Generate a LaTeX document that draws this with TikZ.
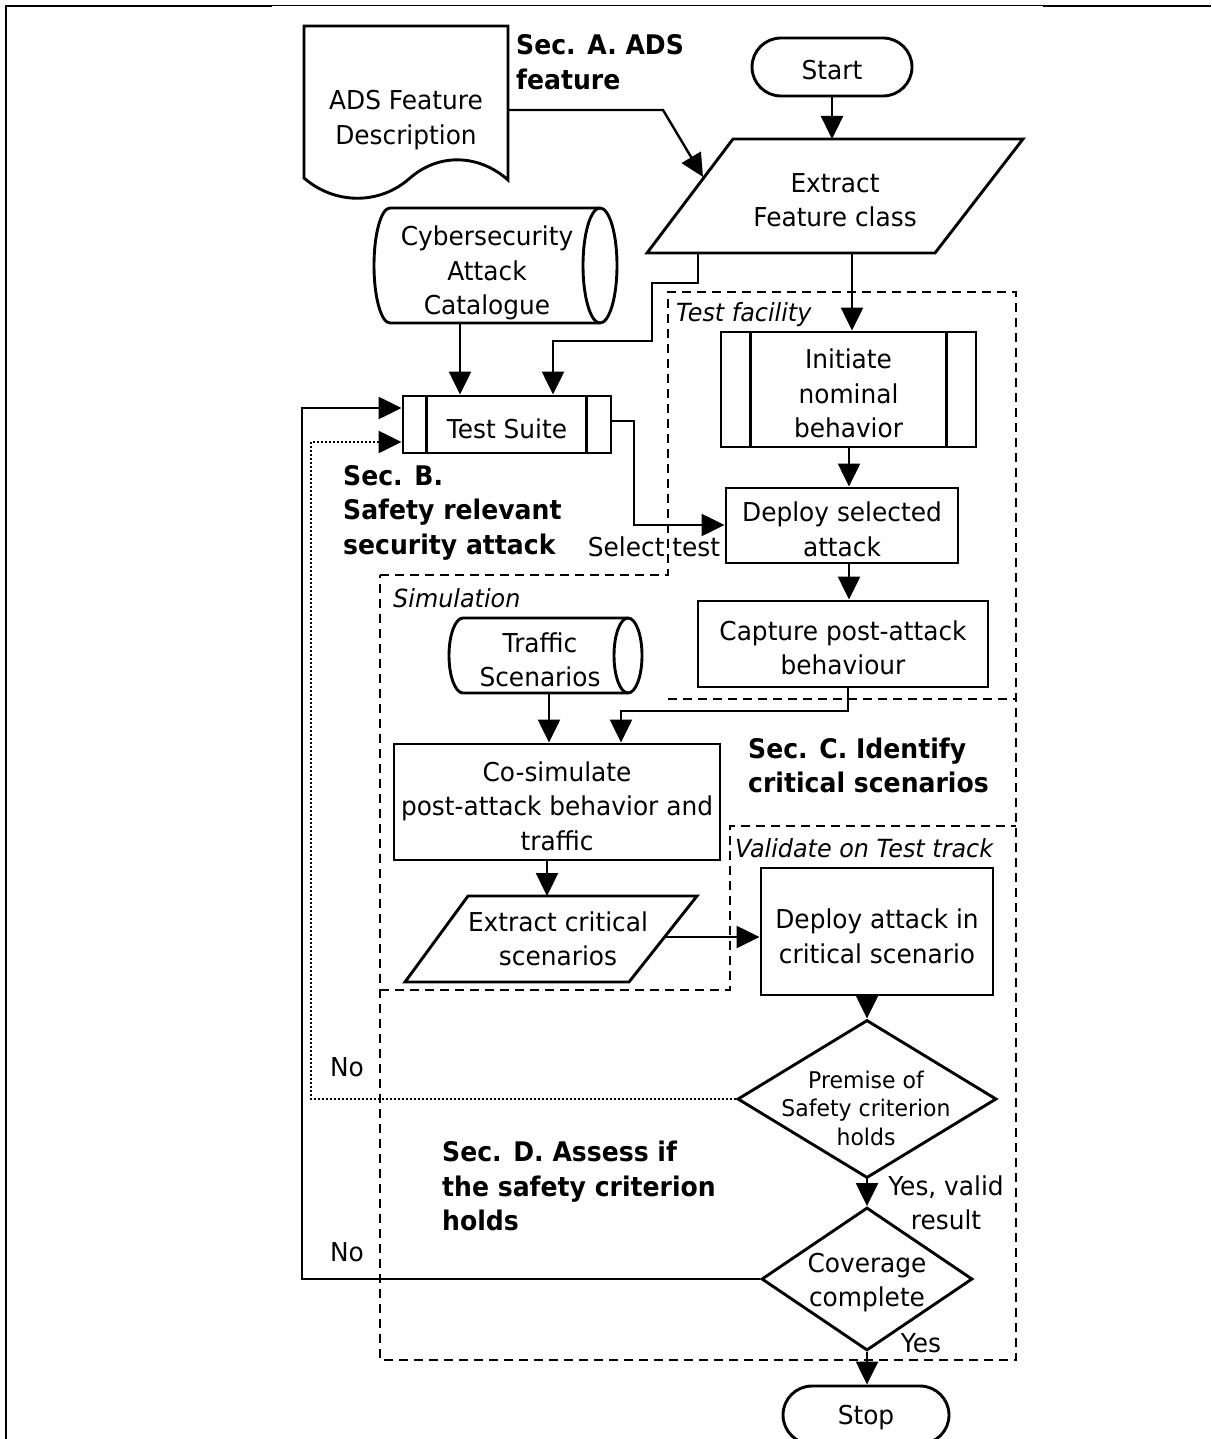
\documentclass[tikz,border=0pt]{standalone}
\usepackage{fontspec}
\setmainfont{DejaVu Sans}[FakeStretch=0.955, BoldFeatures={FakeStretch=0.93}]
\usetikzlibrary{arrows.meta,shapes.geometric}

\newcommand\fcBody{\fontsize{26}{34.5}\selectfont}
\newcommand\fcSect{\fontsize{27}{34.5}\selectfont\bfseries}
\newcommand\fcArea{\fontsize{25}{30}\selectfont\itshape}
\newcommand\fcSmall{\fontsize{23}{28.5}\selectfont}
\newcommand\fcCov{\fontsize{26}{34}\selectfont}

\tikzset{
  outline/.style={draw, line width=2.9pt, line join=miter},
  box/.style={outline, inner sep=0pt},
  txt/.style={inner sep=0pt, align=center, font=\fcBody},
  sect/.style={inner sep=0pt, align=left, anchor=west, font=\fcSect},
  area/.style={inner sep=0pt, anchor=west, font=\fcArea},
  arr/.style={line width=2.4pt, -{Triangle[length=23pt,width=22pt]}},
  region/.style={line width=2.6pt, dash pattern=on 9pt off 6pt},
  retry/.style={line width=2.4pt, dash pattern=on 2pt off 2pt},
}

\begin{document}
\begin{tikzpicture}[x=1pt,y=-1pt]
\useasboundingbox (0,0) rectangle (1211,1439);

% page frame
\draw[line width=2.4pt] (5,6) -- (272,6);
\draw[line width=1pt] (272,6) -- (1043,6);
\draw[line width=2.4pt] (1043,6) -- (1211,6);
\draw[line width=2.6pt] (6,5) -- (6,1439);

% dashed regions: test facility, simulation, test track, assessment
\draw[region] (380,575) -- (668,575) -- (668,292) -- (1016,292) -- (1016,1360) -- (380,1360) -- cycle;
\draw[region] (668,699) -- (1016,699);
\draw[region] (380,990) -- (730,990) -- (730,826) -- (1016,826);

% feature description document
\draw[outline] (304,26) -- (508,26) -- (508,180)
  .. controls (480,155) and (440,152) .. (410,178)
  .. controls (380,205) and (335,205) .. (304,178) -- cycle;
\node[txt] (ads) at (406,120) {ADS Feature\\Description};
\coordinate (ads-e) at (508,110);

% start terminal
\node[box, rounded corners=29pt, minimum width=160pt, minimum height=58pt] (start) at (832,67) {};
\node[txt] (start-t) at ([yshift=-3pt]start.center) {Start};

% extract feature class (input/output)
\draw[outline] (733,139) -- (1023,139) -- (935,253) -- (647,253) -- cycle;
\node[txt] (extract) at (835,200) {Extract\\Feature class};
\coordinate (ext-in) at (832,139);
\coordinate (ext-slant) at (703,177);
\coordinate (ext-out1) at (852,253);
\coordinate (ext-out2) at (698,253);

% attack catalogue (stored data)
\draw[outline] (390,208) -- (600,208)
  arc[start angle=90, end angle=-90, x radius=17pt, y radius=57.5pt] -- (390,323)
  arc[start angle=270, end angle=90, x radius=16pt, y radius=57.5pt] -- cycle;
\draw[outline] (600,208) arc[start angle=90, end angle=270, x radius=17pt, y radius=57.5pt];
\node[txt] (cat) at (487,273) {Cybersecurity\\Attack\\Catalogue};
\coordinate (cat-s) at (460,323);

% test suite (predefined process)
\node[box, minimum width=208pt, minimum height=57pt] (suite) at (507,424.5) {};
\draw[outline] ([xshift=25pt]suite.north west) -- ([xshift=25pt]suite.south west);
\draw[outline] ([xshift=-26pt]suite.north east) -- ([xshift=-26pt]suite.south east);
\node[txt] (suite-t) at ([yshift=-4pt]suite.center) {Test Suite};

% test facility steps
\node[box, minimum width=255pt, minimum height=115pt] (init) at (848.5,389.5) {};
\draw[outline] ([xshift=31pt]init.north west) -- ([xshift=31pt]init.south west);
\draw[outline] ([xshift=-31pt]init.north east) -- ([xshift=-31pt]init.south east);
\node[txt] (init-t) at ([yshift=-4pt]init.center) {Initiate\\nominal\\behavior};
\node[box, minimum width=232pt, minimum height=75pt] (deploy) at (842,525.5) {};
\node[txt] (deploy-t) at ([yshift=-4pt]deploy.center) {Deploy selected\\attack};
\node[box, minimum width=290pt, minimum height=86pt] (capture) at (843,644) {};
\node[txt] (capture-t) at ([yshift=-4pt]capture.center) {Capture post-attack\\behaviour};

% traffic scenarios (stored data)
\draw[outline] (463,618) -- (628,618)
  arc[start angle=90, end angle=-90, x radius=14pt, y radius=37.5pt] -- (463,693)
  arc[start angle=270, end angle=90, x radius=14pt, y radius=37.5pt] -- cycle;
\draw[outline] (628,618) arc[start angle=90, end angle=270, x radius=14pt, y radius=37.5pt];
\node[txt] (traffic) at (540,660) {Traffic\\Scenarios};
\coordinate (traffic-s) at (549,693);

% simulation steps
\node[box, minimum width=326pt, minimum height=116pt] (cosim) at (557,802) {};
\node[txt] (cosim-t) at ([yshift=-4pt]cosim.center) {Co-simulate\\post-attack behavior and\\traffic};
\draw[outline] (468,896) -- (697,896) -- (629,982) -- (405,982) -- cycle;
\node[txt] (extcrit) at (558,939) {Extract critical\\scenarios};
\coordinate (extcrit-n) at (547,896);
\coordinate (extcrit-e) at (665,937);

% test track steps
\node[box, minimum width=232pt, minimum height=127pt] (deployatk) at (877,931.5) {};
\node[txt] (deployatk-t) at ([yshift=-5pt]deployatk.center) {Deploy attack in\\critical scenario};
\node[outline, diamond, minimum width=259pt, minimum height=158pt, inner sep=0pt] (prem) at (867,1099) {};
\node[txt, font=\fcSmall] (prem-t) at (866,1108) {Premise of\\Safety criterion\\holds};
\node[outline, diamond, minimum width=211pt, minimum height=143pt, inner sep=0pt] (cov) at (867,1279) {};
\node[txt, font=\fcCov] (cov-t) at (867,1283) {Coverage\\complete};
\node[box, rounded corners=29pt, minimum width=166pt, minimum height=58pt] (stop) at (866,1415) {};
\node[txt] (stop-t) at ([yshift=-3pt]stop.center) {Stop};

% section headings and region names
\node[sect] (secA) at (516,62) {Sec. A. ADS\\feature};
\node[sect] (secB) at (343,512.5) {Sec. B.\\Safety relevant\\security attack};
\node[sect] (secC) at (748,765.5) {Sec. C. Identify\\critical scenarios};
\node[sect] (secD) at (442,1186) {Sec. D. Assess if\\the safety criterion\\holds};
\node[area] (tf) at (676,315) {Test facility};
\node[area] (sim) at (393,598) {Simulation};
\node[area] (val) at (735,848) {Validate on Test track};

% connector labels
\node[txt] (sel) at (654,547) {Select test};
\node[txt] (no1) at (347,1067) {No};
\node[txt] (no2) at (347,1252) {No};
\node[txt] (yv) at (946,1203) {Yes, valid\\result};
\node[txt] (yes) at (921,1343) {Yes};

% bend points
\coordinate (b1) at (663,110);
\coordinate (b2) at (698,283);
\coordinate (b3) at (652,283);
\coordinate (b4) at (652,341);
\coordinate (b5) at (553,341);
\coordinate (v1) at (849,0);
\coordinate (b6) at (848,711);
\coordinate (b7) at (621,711);
\coordinate (b8) at (311,1099);
\coordinate (b9) at (311,442);
\coordinate (b10) at (302,1279);
\coordinate (b11) at (302,408);
\coordinate (b12) at (634,421);
\coordinate (b13) at (634,525);

% connectors
\draw[arr] (start) -- (ext-in);
\draw[arr] (ads-e) -- (b1) -- (ext-slant);
\draw[arr] (ext-out1) -- (ext-out1 |- init.north);
\draw[arr] (ext-out2) -- (b2) -- (b3) -- (b4) -- (b5) -- (suite.north -| b5);
\draw[arr] (cat-s) -- (suite.north -| cat-s);
\draw[arr] (init.south -| v1) -- (deploy.north -| v1);
\draw[arr] (deploy.south -| v1) -- (capture.north -| v1);
\draw[arr] (capture.south -| b6) -- (b6) -- (b7) -- (cosim.north -| b7);
\draw[arr] (traffic-s) -- (cosim.north -| traffic-s);
\draw[arr] (cosim.south -| extcrit-n) -- (extcrit-n);
\draw[arr] (extcrit-e) -- (deployatk.west |- extcrit-e);
\draw[arr] (deployatk.south -| prem.north) -- (prem.north);
\draw[arr] (prem.south) -- (cov.north);
\draw[arr] (cov.south) -- (stop.north -| cov.south);
\draw[arr] (suite.east |- b12) -- (b12) -- (b13) -- (deploy.west |- b13);
\draw[retry, -{Triangle[length=23pt,width=22pt]}] (prem.west) -- (b8) -- (b9) -- (suite.west |- b9);
\draw[arr] (cov.west) -- (b10) -- (b11) -- (suite.west |- b11);
\end{tikzpicture}
\end{document}
